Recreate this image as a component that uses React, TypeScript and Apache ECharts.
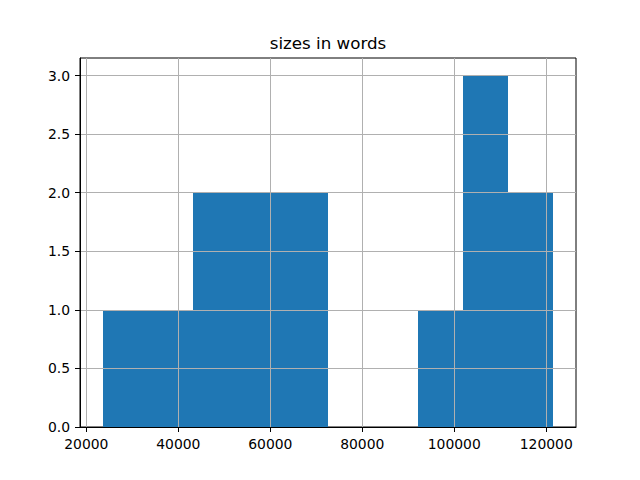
import React, { useEffect, useRef } from "react";
import * as echarts from "echarts";

const binEdges = [23530, 33333, 43136, 52939, 62742, 72545, 82348, 92151, 101954, 111757, 121560];
const counts = [1, 1, 2, 2, 2, 0, 0, 1, 3, 2];
const xTicks = [20000, 40000, 60000, 80000, 100000, 120000];
const yTicks = [0, 0.5, 1.0, 1.5, 2.0, 2.5, 3.0];
const titleText = "sizes in words";

export default function App() {
  const ref = useRef<HTMLDivElement>(null);
  useEffect(() => {
    document.body.style.margin = "0";
    const chart = echarts.init(ref.current!, null, { renderer: "svg" });
    const data = counts.map((c, i) => [binEdges[i], binEdges[i + 1], c]);
    const font = "DejaVu Sans";
    chart.setOption({
      animation: false,
      backgroundColor: "#fff",
      grid: {
        left: 80,
        right: 64,
        top: 58,
        bottom: 53,
        show: true,
        borderColor: "#000",
        borderWidth: 1,
        backgroundColor: "transparent",
      },
      graphic: [
        {
          type: "text",
          x: 328,
          y: 43.2,
          style: {
            text: titleText,
            fontFamily: font,
            fontSize: 16.7,
            fill: "#000",
            align: "center",
            verticalAlign: "middle",
          },
        },
      ],
      xAxis: {
        type: "value",
        min: 18630,
        max: 126460,
        z: 3,
        axisLine: { show: true, lineStyle: { color: "#000", width: 1 } },
        axisTick: { show: true, length: 5, customValues: xTicks, lineStyle: { color: "#000", width: 1 } },
        axisLabel: {
          customValues: xTicks,
          margin: 10,
          fontFamily: font,
          fontSize: 13.9,
          color: "#000",
          formatter: (v: number) => String(v),
        },
        splitLine: { show: true, lineStyle: { color: "#b0b0b0", width: 1 } },
      },
      yAxis: {
        type: "value",
        min: 0,
        max: 3.15,
        z: 3,
        axisLine: { show: true, lineStyle: { color: "#000", width: 1 } },
        axisTick: { show: true, length: 5, customValues: yTicks, lineStyle: { color: "#000", width: 1 } },
        axisLabel: {
          customValues: yTicks,
          margin: 10,
          fontFamily: font,
          fontSize: 13.9,
          color: "#000",
          formatter: (v: number) => v.toFixed(1),
        },
        splitLine: { show: true, lineStyle: { color: "#b0b0b0", width: 1 } },
      },
      series: [
        {
          type: "custom",
          z: 1,
          renderItem: (params: any, api: any) => {
            const x0 = api.value(0);
            const x1 = api.value(1);
            const c = api.value(2);
            if (!c) return null;
            const p0 = api.coord([x0, c]);
            const p1 = api.coord([x1, 0]);
            const l = Math.round(p0[0]);
            const r = Math.round(p1[0]);
            const t = Math.round(p0[1]);
            const b = Math.round(p1[1]);
            return {
              type: "rect",
              shape: { x: l, y: t, width: r - l, height: b - t },
              style: { fill: "#1f77b4" },
            };
          },
          encode: { x: [0, 1], y: 2 },
          data,
        },
      ],
    });
    return () => chart.dispose();
  }, []);
  return <div ref={ref} style={{ width: 640, height: 480, position: "absolute", left: 0, top: 0 }} />;
}
